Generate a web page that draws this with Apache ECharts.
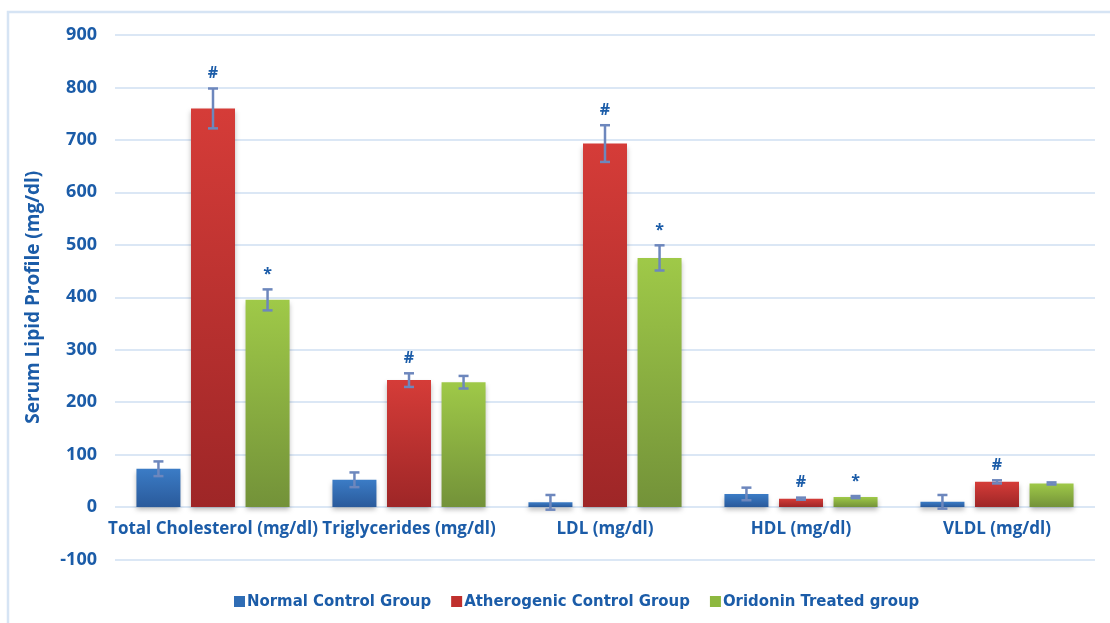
<!DOCTYPE html>
<html>
<head>
<meta charset="utf-8">
<script src="https://cdn.jsdelivr.net/npm/echarts@6/dist/echarts.min.js"></script>
<style>
  html, body { margin: 0; padding: 0; background: #ffffff; }
  #chart { width: 1110px; height: 623px; }
</style>
</head>
<body>
<div id="chart"></div>
<script>
// Lipid panel categories
const categories = ['Total Cholesterol (mg/dl)', 'Triglycerides (mg/dl)', 'LDL (mg/dl)', 'HDL (mg/dl)', 'VLDL (mg/dl)'];
const groupNames = ['Normal Control Group', 'Atherogenic Control Group', 'Oridonin Treated group'];

// Mean values (mg/dl)
const normalMean    = [73, 52, 9, 25, 10];
const atheroMean    = [760, 242, 693, 16, 48];
const oridoninMean  = [395, 238, 475, 19, 45];

// Standard deviations (mg/dl)
const normalSd      = [14, 14, 14, 12, 13];
const atheroSd      = [38, 13, 35, 2, 3];
const oridoninSd    = [20, 12, 24, 2, 2];

// Significance marks above each bar
const normalMarks   = ['', '', '', '', ''];
const atheroMarks   = ['#', '#', '#', '#', '#'];
const oridoninMarks = ['*', '', '*', '*', ''];

// Y axis ticks
const yMin = -100, yMax = 900, yStep = 100;

const TEXT_BLUE = '#1b5ca8';
const BAR_W = 44;
const BAR_GAP = 0.24;

const palettes = [
  { top: '#3b7cc6', bottom: '#2a5a9b', legend: '#2f6db5' },
  { top: '#d53c38', bottom: '#9e2627', legend: '#c0302d' },
  { top: '#9fc948', bottom: '#739239', legend: '#8db83f' }
];

const means = [normalMean, atheroMean, oridoninMean];
const sds = [normalSd, atheroSd, oridoninSd];
const marks = [normalMarks, atheroMarks, oridoninMarks];

function grad(p) {
  return new echarts.graphic.LinearGradient(0, 0, 0, 1, [
    { offset: 0, color: p.top },
    { offset: 1, color: p.bottom }
  ]);
}

const barSeries = groupNames.map((name, k) => ({
  name: name,
  type: 'bar',
  barWidth: BAR_W,
  barGap: (BAR_GAP * 100) + '%',
  data: means[k],
  itemStyle: {
    color: grad(palettes[k]),
    shadowColor: 'rgba(0,0,0,0.28)',
    shadowBlur: 5,
    shadowOffsetY: 3
  },
  z: 2
}));

// Error bars with caps and significance marks, placed over each bar slot
const errSeries = groupNames.map((name, k) => ({
  type: 'custom',
  name: name + ' error',
  z: 5,
  silent: true,
  data: means[k].map((m, i) => [i, m - sds[k][i], m + sds[k][i], i]),
  renderItem: function (params, api) {
    const i = api.value(0);
    const step = BAR_W * (1 + BAR_GAP);
    const dx = (k - 1) * step;
    const lo = api.coord([i, api.value(1)]);
    const hi = api.coord([i, api.value(2)]);
    const x = lo[0] + dx;
    const cap = 5;
    const style = { stroke: '#6d87bd', lineWidth: 2.5 };
    const children = [
      { type: 'line', shape: { x1: x, y1: lo[1], x2: x, y2: hi[1] }, style: style },
      { type: 'line', shape: { x1: x - cap, y1: lo[1], x2: x + cap, y2: lo[1] }, style: style },
      { type: 'line', shape: { x1: x - cap, y1: hi[1], x2: x + cap, y2: hi[1] }, style: style }
    ];
    const mark = marks[k][api.value(3)];
    if (mark) {
      children.push({
        type: 'text',
        style: {
          text: mark,
          x: x,
          y: hi[1] - 7,
          align: 'center',
          verticalAlign: 'bottom',
          fill: TEXT_BLUE,
          font: 'bold 16px "Open Sans", sans-serif'
        }
      });
    }
    return { type: 'group', children: children };
  }
}));

const chart = echarts.init(document.getElementById('chart'), null, { renderer: 'canvas' });

chart.setOption({
  backgroundColor: '#ffffff',
  animation: false,
  graphic: [{
    type: 'rect',
    shape: { x: 8, y: 12, width: 1130, height: 640 },
    style: { fill: 'none', stroke: '#d6e4f4', lineWidth: 2.5 },
    silent: true,
    z: -10
  }],
  grid: { left: 115, right: 15, top: 35, bottom: 63.5, containLabel: false },
  legend: {
    data: groupNames.map((n, k) => ({ name: n, itemStyle: { color: palettes[k].legend } })),
    top: 588,
    left: 229,
    icon: 'rect',
    itemWidth: 11,
    itemHeight: 11,
    itemGap: 20,
    textStyle: {
      color: TEXT_BLUE,
      fontWeight: 'bold',
      fontSize: 16.6,
      fontFamily: '"DejaVu Sans Condensed", sans-serif',
      padding: [0, 0, 0, -3]
    }
  },
  xAxis: {
    type: 'category',
    data: categories,
    axisLine: { show: false },
    axisTick: { show: false },
    axisLabel: {
      color: TEXT_BLUE,
      fontWeight: 'bold',
      fontSize: 17,
      fontFamily: '"Open Sans", sans-serif',
      margin: -39,
      interval: 0
    }
  },
  yAxis: {
    type: 'value',
    min: yMin,
    max: yMax,
    interval: yStep,
    name: 'Serum Lipid Profile (mg/dl)',
    nameLocation: 'middle',
    nameGap: 72,
    nameRotate: 90,
    nameTextStyle: {
      color: TEXT_BLUE,
      fontWeight: 'bold',
      fontSize: 19,
      fontFamily: '"Open Sans", sans-serif'
    },
    axisLine: { show: false },
    axisTick: { show: false },
    axisLabel: {
      color: TEXT_BLUE,
      fontWeight: 'bold',
      fontSize: 18,
      fontFamily: '"Open Sans", sans-serif',
      margin: 18
    },
    splitLine: { lineStyle: { color: '#dbe7f5', width: 2 } }
  },
  series: barSeries.concat(errSeries)
});
</script>
</body>
</html>
